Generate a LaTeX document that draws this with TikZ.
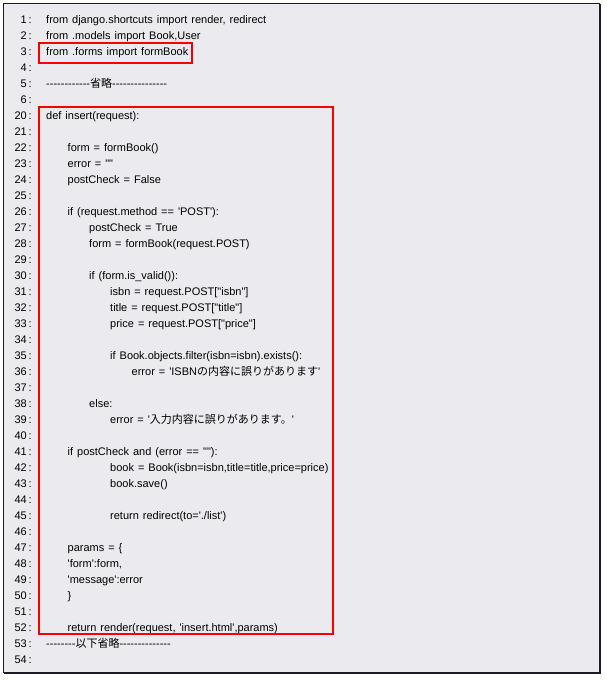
\documentclass[tikz,border=0pt]{standalone}
\usepackage{fontspec}
\setmainfont{Liberation Sans}[Ligatures=TeXOff,WordSpace=1.3]
\newfontfamily\jp{Noto Sans CJK JP}
\usepackage{tikz}
\usetikzlibrary{positioning}

\definecolor{panel}{RGB}{235,235,239}
\definecolor{frame}{RGB}{28,28,40}
\definecolor{mark}{RGB}{250,0,0}

\begin{document}
\begin{tikzpicture}[x=1pt,y=-1pt,
    code/.style={anchor=base west,inner sep=0pt,font=\fontsize{11}{13}\selectfont},
    num/.style={anchor=base east,inner sep=0pt,font=\fontsize{11}{13}\selectfont},
    markbox/.style={draw=mark,line width=2pt}]
    \useasboundingbox (0,0) rectangle (606,681);

    % Draw panel
    \fill[panel] (3.5,3.5) rectangle (600,673);
    \draw[frame] (3.5,673) -- (3.5,3.5) -- (600,3.5);
    \draw[frame,line width=2pt] (600,3.5) -- (600,673) -- (3.5,673);

    % Draw line numbers
    \foreach \n in {1,...,6} {
        \node[num] (n\n) at (27,{7+16*\n}) {\n};
        \node[code] (c\n) at (28.5,{7+16*\n}) {:};
    }
    \foreach \n in {20,...,54} {
        \node[num] (n\n) at (27,{16*\n-201}) {\n};
        \node[code] (c\n) at (28.5,{16*\n-201}) {:};
    }

    % Draw imports
    \node[code] (l1) at (46,23) {from django.shortcuts import render, redirect};
    \node[code] (l2) at (46,39) {from .models import Book,User};
    \node[code] (l3) at (46,55) {from .forms import formBook};
    \node[code] (l5) at (46,87) {------------{\jp 省略}---------------};

    % Draw insert view
    \node[code] (l20) at (46,119) {def insert(request):};
    \node[code] (l22) at (67.5,151) {form = formBook()};
    \node[code] (l23) at (67.5,167) {error = ""};
    \node[code] (l24) at (67.5,183) {postCheck = False};
    \node[code] (l26) at (67.5,215) {if (request.method == 'POST'):};
    \node[code] (l27) at (89,231) {postCheck = True};
    \node[code] (l28) at (89,247) {form = formBook(request.POST)};
    \node[code] (l30) at (89,279) {if (form.is\_valid()):};
    \node[code] (l31) at (110,295) {isbn = request.POST["isbn"]};
    \node[code] (l32) at (110,311) {title = request.POST["title"]};
    \node[code] (l33) at (110,327) {price = request.POST["price"]};
    \node[code] (l35) at (110,359) {if Book.objects.filter(isbn=isbn).exists():};
    \node[code] (l36) at (131.5,375) {error = 'ISBN{\jp の内容に誤りがあります}'};
    \node[code] (l38) at (89,407) {else:};
    \node[code] (l39) at (110,423) {error = '{\jp 入力内容に誤りがあります。}'};
    \node[code] (l41) at (67.5,455) {if postCheck and (error == ""):};
    \node[code] (l42) at (110,471) {book = Book(isbn=isbn,title=title,price=price)};
    \node[code] (l43) at (110,487) {book.save()};
    \node[code] (l45) at (110,519) {return redirect(to='./list')};
    \node[code] (l47) at (67.5,551) {params = \{};
    \node[code] (l48) at (67.5,567) {'form':form,};
    \node[code] (l49) at (67.5,583) {'message':error};
    \node[code] (l50) at (67.5,599) {\}};
    \node[code] (l52) at (67.5,631) {return render(request, 'insert.html',params)};
    \node[code] (l53) at (46,647) {--------{\jp 以下省略}--------------};

    % Draw red marks
    \draw[markbox] (39,43) rectangle (192,63);
    \draw[markbox] (39,107) rectangle (333,634);
\end{tikzpicture}
\end{document}
